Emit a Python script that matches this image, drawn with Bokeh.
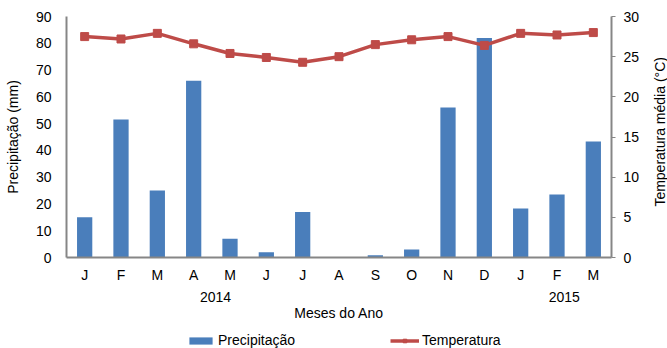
import math
from bokeh.plotting import figure
from bokeh.layouts import row, column
from bokeh.models import (Range1d, LinearAxis, FixedTicker, Legend, LegendItem, Label)
from bokeh.embed import file_html
from bokeh.resources import INLINE

# Monthly data, Jan 2014 - Mar 2015
months = ["J", "F", "M", "A", "M", "J", "J", "A", "S", "O", "N", "D", "J", "F", "M"]
precip_mm = [15, 51.5, 25, 66, 7, 2, 17, 0, 0.8, 3, 56, 82, 18.3, 23.5, 43.3]
temp_c = [27.5, 27.2, 27.9, 26.6, 25.4, 24.9, 24.3, 25.0, 26.5, 27.1, 27.5, 26.4, 27.9, 27.7, 28.0]
years = ["2014", "2015"]
year_pos = [3.6, 13.2]

FONT = "Liberation Sans"
FS = "14px"
AXIS_GREY = "#868686"
BAR_BLUE = "#4a7ebb"
LINE_RED = "#be4b48"

x = list(range(len(months)))

# ---- main chart -------------------------------------------------------------
p = figure(width=642, height=328, output_backend="svg", toolbar_location=None,
           x_range=Range1d(-0.5, len(months) - 0.5), y_range=Range1d(0, 90),
           min_border_left=66, min_border_right=31, min_border_top=16, min_border_bottom=71,
           outline_line_color=None)
p.xgrid.visible = False
p.ygrid.visible = False
p.extra_y_ranges = {"temp": Range1d(0, 30)}

p.vbar(x=x, top=precip_mm, width=0.42, fill_color=BAR_BLUE, line_color=None)
p.line(x=x, y=temp_c, y_range_name="temp", line_color=LINE_RED, line_width=3.5)
p.scatter(x=x, y=temp_c, y_range_name="temp", marker="square", size=8,
          fill_color=LINE_RED, line_color=LINE_RED)

def style_axis(ax):
    ax.axis_line_color = AXIS_GREY
    ax.axis_line_width = 2
    ax.major_label_text_font = FONT
    ax.major_label_text_font_size = FS
    ax.major_label_text_color = "#000000"
    ax.axis_label_text_font = FONT
    ax.axis_label_text_font_size = FS
    ax.axis_label_text_font_style = "normal"
    ax.axis_label_text_color = "#000000"
    ax.minor_tick_line_color = None

# month axis
xa = p.xaxis[0]
xa.ticker = FixedTicker(ticks=x)
xa.major_label_overrides = {i: m for i, m in enumerate(months)}
style_axis(xa)
xa.major_tick_line_color = None
xa.major_label_standoff = 3

# year row + axis title
ya2 = LinearAxis(ticker=FixedTicker(ticks=year_pos),
                 major_label_overrides={pos: yr for pos, yr in zip(year_pos, years)},
                 axis_label="Meses do Ano")
style_axis(ya2)
ya2.axis_line_color = None
ya2.major_tick_line_color = None
ya2.major_label_standoff = 0
ya2.axis_label_standoff = 0
p.add_layout(ya2, "below")

# precipitation axis
la = p.yaxis[0]
la.ticker = FixedTicker(ticks=list(range(0, 91, 10)))
la.axis_label = "Precipitação (mm)"
style_axis(la)
la.major_tick_line_color = None
la.major_label_standoff = 9
la.axis_label_standoff = 12

# temperature axis
ra = LinearAxis(y_range_name="temp", ticker=FixedTicker(ticks=list(range(0, 31, 5))))
style_axis(ra)
ra.major_tick_line_color = AXIS_GREY
ra.major_tick_line_width = 1
ra.major_tick_in = 0
ra.major_tick_out = 4
ra.major_label_standoff = 8
p.add_layout(ra, "right")

# ---- strip holding the temperature axis title (reads bottom-to-top) ----------
side = figure(width=25, height=328, output_backend="svg", toolbar_location=None,
              x_range=Range1d(0, 25), y_range=Range1d(0, 328),
              x_axis_location=None, y_axis_location=None, outline_line_color=None,
              min_border=0)
side.grid.visible = False
side.add_layout(Label(x=17.5, y=171, text="Temperatura média (°C)", angle=math.pi / 2,
                      text_align="center", text_baseline="middle",
                      text_font=FONT, text_font_size=FS, text_color="#000000"))

# ---- legend strip -----------------------------------------------------------
# legend key renderers sit outside the strip's visible range
leg = figure(width=667, height=20, output_backend="svg", toolbar_location=None,
             x_range=Range1d(0, 1), y_range=Range1d(0, 1),
             x_axis_location=None, y_axis_location=None, outline_line_color=None,
             min_border=0)
leg.grid.visible = False
lb = leg.vbar(x=[-5], top=[-5], width=0.4, fill_color=BAR_BLUE, line_color=None)
ll = leg.line(x=[-5, -4], y=[-5, -5], line_color=LINE_RED, line_width=3.5)
ls = leg.scatter(x=[-5], y=[-5], marker="square", size=8, fill_color=LINE_RED,
                 line_color=LINE_RED)
legend = Legend(items=[LegendItem(label="Precipitação", renderers=[lb]),
                       LegendItem(label="Temperatura", renderers=[ll, ls])],
                orientation="horizontal", location=(186, 0),
                label_text_font=FONT, label_text_font_size=FS, label_text_color="#000000",
                glyph_width=29, glyph_height=9, label_height=14, label_standoff=3, spacing=95,
                border_line_color=None, background_fill_alpha=0, padding=0, margin=0)
leg.add_layout(legend)

layout = column(row(p, side), leg)
open("out.html", "w").write(file_html(layout, INLINE))
